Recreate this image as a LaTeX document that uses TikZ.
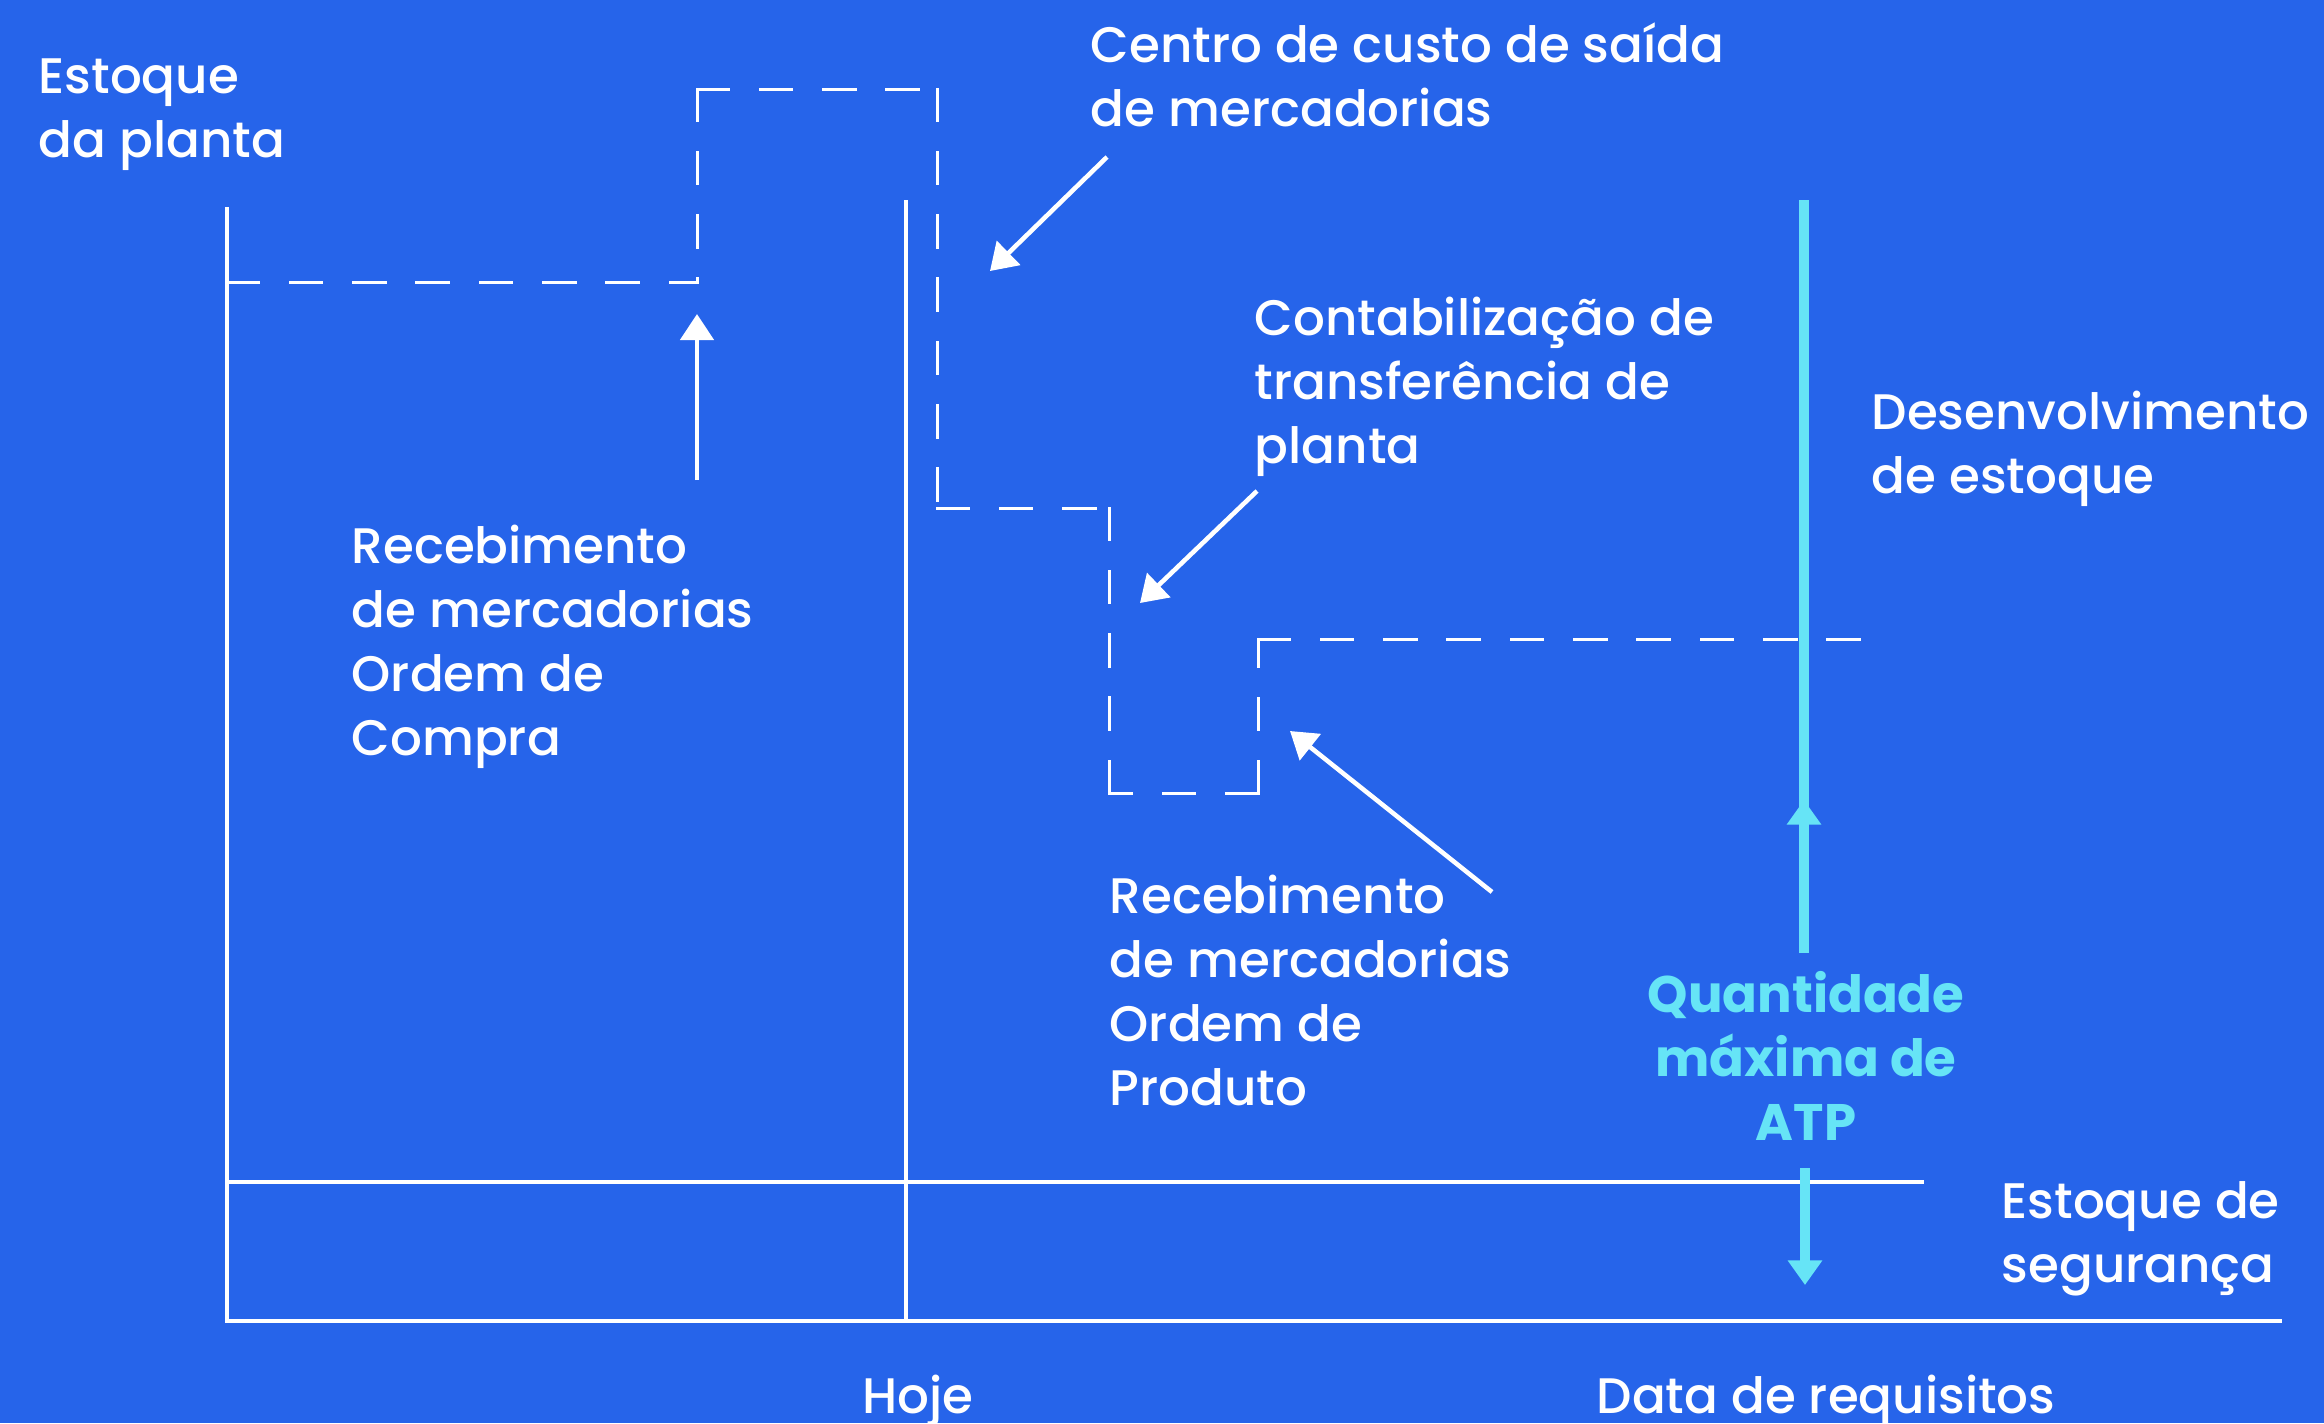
\documentclass[tikz,border=0pt]{standalone}
\usepackage{fontspec}
\setmainfont{Poppins Medium}[BoldFont={Poppins Bold}]
\usetikzlibrary{arrows.meta}
\definecolor{bgblue}{HTML}{2664EA}
\definecolor{atpcyan}{HTML}{66E4F6}
\begin{document}
\begin{tikzpicture}[x=0.01cm,y=0.01cm,
  axis/.style={white,line width=1.4pt},
  plan/.style={white,line width=0.85pt,dash pattern=on 9pt off 9pt,line cap=rect},
  pointer/.style={white,line width=1.3pt,-{Triangle[length=7.4pt,width=9.4pt]}},
  atp/.style={atpcyan,line width=3pt},
  atptip/.style={-{Triangle[length=7pt,width=9.4pt]}},
  lbl/.style={white,inner sep=0pt,anchor=north west,align=left,font=\fontsize{14.2}{18.2}\selectfont}]
\fill [bgblue] (0,0) rectangle (2324,-1423);
\useasboundingbox (0,0) rectangle (2324,-1423);
\coordinate (origin) at (227,-1321);
\coordinate (yTop) at (227,-207);
\coordinate (xEnd) at (2282,-1321);
\coordinate (hojeTop) at (906,-200);
\coordinate (hojeBot) at (906,-1321);
\coordinate (segL) at (227,-1182);
\coordinate (segR) at (1924,-1182);
\draw [axis] (yTop) -- (origin) -- (xEnd);
\draw [axis] (hojeTop) -- (hojeBot);
\draw [axis] (segL) -- (segR);
\coordinate (p0) at (227,-282);
\coordinate (p1) at (697,-282);
\coordinate (p2) at (697,-89);
\coordinate (p3) at (937,-89);
\coordinate (p4) at (937,-508);
\coordinate (p5) at (1109,-508);
\coordinate (p6) at (1109,-793);
\coordinate (p7) at (1258,-793);
\coordinate (p8) at (1258,-639);
\coordinate (p9) at (1860,-639);
\draw [plan] (p0) -- (p1) (p2) -- (p1) (p2) -- (p3) (p3) -- (p4) (p4) -- (p5)
  (p5) -- (p6) (p7) -- (p6) (p7) -- (p8) (p8) -- (p9);
\coordinate (compraTail) at (697,-480);
\coordinate (compraTip) at (697,-314);
\coordinate (centroTail) at (1107,-157);
\coordinate (centroTip) at (990,-271);
\coordinate (contabTail) at (1257,-491);
\coordinate (contabTip) at (1140,-603);
\coordinate (produtoTail) at (1492,-892);
\coordinate (produtoTip) at (1290,-731);
\draw [pointer] (compraTail) -- (compraTip);
\draw [pointer] (centroTail) -- (centroTip);
\draw [pointer] (contabTail) -- (contabTip);
\draw [pointer] (produtoTail) -- (produtoTip);
\coordinate (atpTop) at (1804,-200);
\coordinate (atpBot) at (1804,-953);
\coordinate (atpUp) at (1804,-800);
\coordinate (atpDownTail) at (1805,-1168);
\coordinate (atpDownTip) at (1805,-1285);
\draw [atp] (atpTop) -- (atpBot);
\draw [atp,atptip] (atpBot) -- (atpUp);
\draw [atp,atptip] (atpDownTail) -- (atpDownTip);
\node [lbl] (stockLbl) at (38,-48) {\strut Estoque\\da planta};
\node [lbl] (centroLbl) at (1090,-17) {\strut Centro de custo de saída\\de mercadorias};
\node [lbl] (contabLbl) at (1254,-290) {\strut Contabilização de\\transferência de\\planta};
\node [lbl] (desenvLbl) at (1871,-384) {\strut Desenvolvimento\\de estoque};
\node [lbl] (compraLbl) at (351,-518) {\strut Recebimento\\de mercadorias\\Ordem de\\Compra};
\node [lbl] (produtoLbl) at (1109,-868) {\strut Recebimento\\de mercadorias\\Ordem de\\Produto};
\node [lbl,anchor=north,align=center,text=atpcyan,font=\fontsize{14.6}{18.2}\selectfont\bfseries] (atpLbl) at (1806,-967) {\strut Quantidade\\máxima de\\ATP};
\node [lbl] (segLbl) at (2001,-1173) {\strut Estoque de\\segurança};
\node [lbl,anchor=base] (hojeLbl) at (918,-1413) {Hoje};
\node [lbl,anchor=base] (dataLbl) at (1826,-1413) {Data de requisitos};
\end{tikzpicture}
\end{document}
